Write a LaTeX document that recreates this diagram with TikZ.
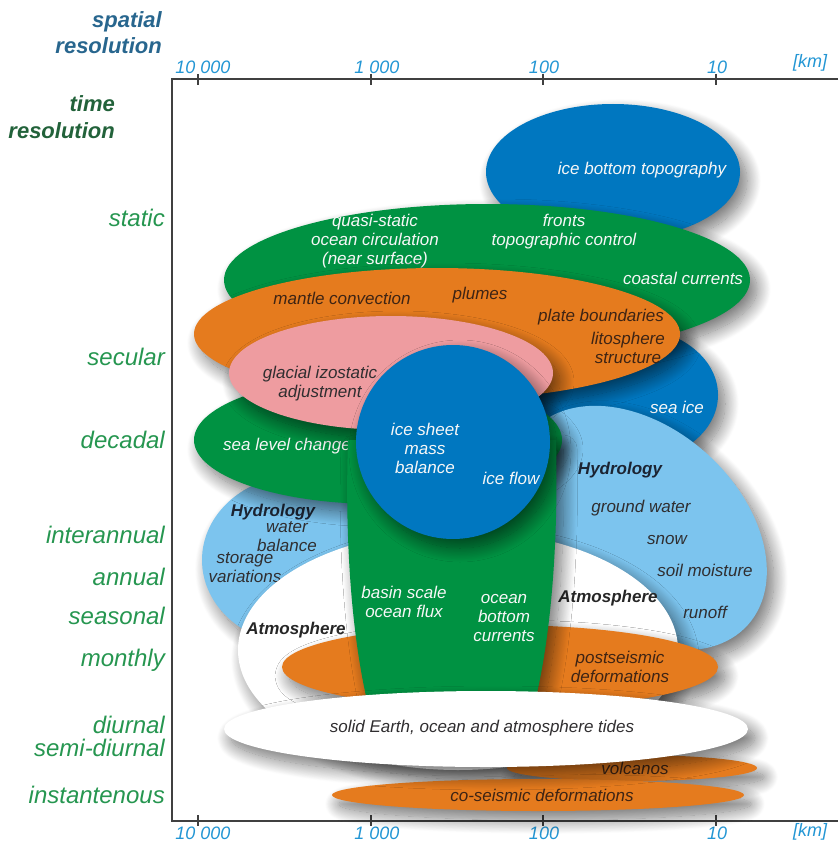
\documentclass[tikz,border=0pt]{standalone}
\usepackage{fontspec}
\setmainfont{Liberation Sans}
\usetikzlibrary{shadows.blur}

\definecolor{iceblue}{RGB}{0,119,192}
\definecolor{oceangreen}{RGB}{0,146,66}
\definecolor{earthorange}{RGB}{229,123,30}
\definecolor{giapink}{RGB}{238,156,160}
\definecolor{hydroblue}{RGB}{124,196,238}
\definecolor{axisblue}{RGB}{35,150,212}
\definecolor{timegreen}{RGB}{38,150,80}
\definecolor{spacetitle}{RGB}{40,102,142}
\definecolor{timetitle}{RGB}{34,98,58}
\definecolor{darktext}{RGB}{48,46,48}
\definecolor{browntext}{RGB}{62,36,20}
\definecolor{headtext}{RGB}{28,36,50}

\begin{document}
\begin{tikzpicture}[x=1pt, y=-1pt,
    blob/.style={blur shadow={shadow xshift=7pt, shadow yshift=-9pt,
        shadow blur radius=14pt, shadow blur steps=20, shadow opacity=55}},
    inner/.style={font=\itshape\fontsize{17}{19}\selectfont, align=center, inner sep=0pt},
    light/.style={inner, text=white!94!gray},
    dark/.style={inner, text=darktext},
    brown/.style={inner, text=browntext},
    head/.style={font=\bfseries\itshape\fontsize{17}{19}\selectfont, text=headtext, inner sep=0pt},
    timelbl/.style={font=\itshape\fontsize{24}{26}\selectfont, text=timegreen,
        anchor=base east, inner sep=0pt},
    title/.style={font=\bfseries\itshape\fontsize{22}{26}\selectfont,
        anchor=base east, inner sep=0pt},
    kmlbl/.style={font=\itshape\fontsize{18}{20}\selectfont, text=axisblue, inner sep=0pt},
    axisline/.style={line width=1.6pt, draw=black!75},
    axistick/.style={line width=1.2pt, draw=black!75}]
  \useasboundingbox (0,0) rectangle (838,845);

  % titles
  \node[title, text=spacetitle] (spatial)  at (162,28)  {spatial};
  \node[title, text=spacetitle] (spatres)  at (162,54)  {resolution};
  \node[title, text=timetitle]  (time)     at (115,112) {time};
  \node[title, text=timetitle]  (timeres)  at (115,139) {resolution};

  % time scale
  \node[timelbl] (static)       at (165,226) {static};
  \node[timelbl] (secular)      at (165,365) {secular};
  \node[timelbl] (decadal)      at (165,448) {decadal};
  \node[timelbl] (interannual)  at (165,543) {interannual};
  \node[timelbl] (annual)       at (165,585) {annual};
  \node[timelbl] (seasonal)     at (165,624) {seasonal};
  \node[timelbl] (monthly)      at (165,666) {monthly};
  \node[timelbl] (diurnal)      at (165,733) {diurnal};
  \node[timelbl] (semidiurnal)  at (165,756) {semi-diurnal};
  \node[timelbl] (instant)      at (165,803) {instantenous};

  % frame and spatial scale
  \draw[axisline] (838,79) -- (172,79) -- (172,821) -- (838,821);
  \foreach \x/\lab/\dx in {198/10 000/5, 371/1 000/6, 543/100/1, 716/10/1} {
    \draw[axistick] (\x,74) -- (\x,85);
    \draw[axistick] (\x,815) -- (\x,826);
    \node[kmlbl] (top\x) at (\x+\dx,67)  {\lab};
    \node[kmlbl] (bot\x) at (\x+\dx,833) {\lab};
  }
  \node[kmlbl] (kmtop) at (810,63)  {[km]};
  \node[kmlbl] (kmbot) at (810,832) {[km]};

  % static
  \fill[iceblue, blob] (613,172) ellipse [x radius=127, y radius=68];
  \node[light] (icebottom) at (642,170) {ice bottom topography};

  \fill[iceblue, blob] (628,395) ellipse [x radius=90, y radius=68];
  \node[light] (seaice) at (677,407) {sea ice};

  \fill[oceangreen, blob] (487,280) ellipse [x radius=263, y radius=76];
  \node[light] (quasistatic) at (375,241) {quasi-static\\ocean circulation\\(near surface)};
  \node[light] (fronts) at (564,232) {fronts\\topographic control};
  \node[light] (coastal) at (683,278) {coastal currents};

  % secular
  \fill[earthorange, blob] (437,334) ellipse [x radius=243, y radius=66];
  \node[brown] (mantle) at (342,298) {mantle convection};
  \node[brown] (plumes) at (480,295) {plumes};
  \node[brown] (plate) at (601,317) {plate boundaries};
  \node[brown] (litho) at (628,348) {litosphere\\structure};

  % hydrology
  \fill[hydroblue, blob] plot[domain=0:360, samples=121]
    ({640+145*cos(\x)*cos(42)-100*sin(\x)*sin(42)},
     {528+145*cos(\x)*sin(42)+100*sin(\x)*cos(42)}) -- cycle;
  \node[head] (hydroR) at (620,470) {Hydrology};
  \node[dark] (ground) at (641,508) {ground water};
  \node[dark] (snow) at (667,540) {snow};
  \node[dark] (soil) at (705,570) {soil moisture};
  \node[dark] (runoff) at (705,612) {runoff};

  \fill[hydroblue, blob] (300,560) ellipse [x radius=98, y radius=85];
  \node[head] (hydroL) at (273,512) {Hydrology};
  \node[dark] (water) at (287,537) {water\\balance};
  \node[dark] (storage) at (245,568) {storage\\variations};

  % atmosphere
  \fill[white, blob] (458,650) ellipse [x radius=220, y radius=120];
  \node[head, text=black!85] (atmL) at (296,630) {Atmosphere};
  \node[head, text=black!85] (atmR) at (608,598) {Atmosphere};

  \fill[earthorange, blob] (500,667) ellipse [x radius=218, y radius=42];
  \node[brown] (postseis) at (620,667) {postseismic\\deformations};

  % decadal
  \fill[oceangreen, blob] (378,440) ellipse [x radius=184, y radius=64];
  \node[light] (sealevel) at (287,446) {sea level change};

  \fill[giapink, blob] (391,373) ellipse [x radius=162, y radius=57];
  \node[dark] (gia) at (320,384) {glacial izostatic\\adjustment};

  \fill[oceangreen, blob] (348,440) .. controls (344,560) and (355,660) .. (372,720)
    -- (530,720) .. controls (548,660) and (559,560) .. (556,440) -- cycle;
  \node[light] (basin) at (404,602) {basin scale\\ocean flux};
  \node[light] (oceanbottom) at (504,618) {ocean\\bottom\\currents};

  \fill[iceblue, blob] (453,442) circle [radius=97];
  \node[light] (massbal) at (425,448) {ice sheet\\mass\\balance};
  \node[light] (iceflow) at (511,478) {ice flow};

  % short periods
  \fill[earthorange, blob] (632,768) ellipse [x radius=125, y radius=13];
  \node[brown] (volcanos) at (635,768) {volcanos};

  \fill[earthorange, blob] (538,795) ellipse [x radius=206, y radius=16];
  \node[brown] (coseis) at (542,795) {co-seismic deformations};

  \fill[white, blob] (486,729) ellipse [x radius=262, y radius=38];
  \node[dark] (tides) at (482,728) {solid Earth, ocean and atmosphere tides};
\end{tikzpicture}
\end{document}
